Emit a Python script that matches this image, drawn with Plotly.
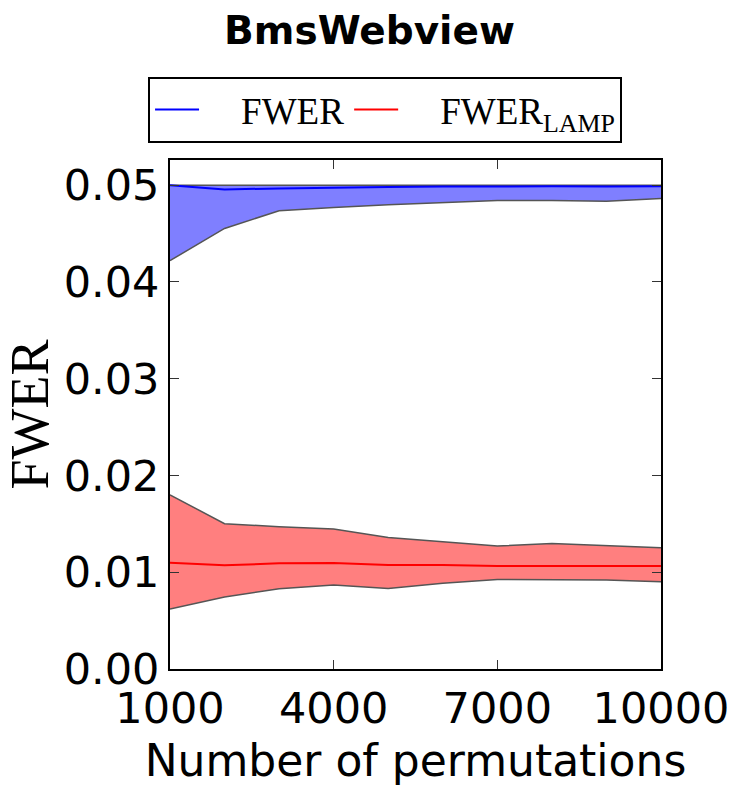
import plotly.graph_objects as go

perms = [1000, 2000, 3000, 4000, 5000, 6000, 7000, 8000, 9000, 10000]

fwer_mean = [0.0500, 0.04956, 0.04966, 0.04975, 0.0498, 0.04985, 0.04988, 0.04988, 0.04985, 0.04988]
fwer_upper = [0.0500, 0.0500, 0.0500, 0.0500, 0.0500, 0.0500, 0.0500, 0.0500, 0.0500, 0.0500]
fwer_lower = [0.0422, 0.04553, 0.04735, 0.0477, 0.04797, 0.04817, 0.04842, 0.04842, 0.04835, 0.04862]

lamp_mean = [0.01098, 0.01071, 0.01092, 0.01095, 0.01074, 0.01074, 0.01064, 0.01067, 0.01064, 0.01064]
lamp_upper = [0.0180, 0.01501, 0.01470, 0.01446, 0.01360, 0.01315, 0.01271, 0.01298, 0.01278, 0.01253]
lamp_lower = [0.0062, 0.00744, 0.0083, 0.00868, 0.00833, 0.00885, 0.00926, 0.00923, 0.00919, 0.00902]

x_ticks = [1000, 4000, 7000, 10000]
y_ticks = [0.00, 0.01, 0.02, 0.03, 0.04, 0.05]

PAD = "\u00a0" * 4
names = [PAD + "FWER", PAD + "FWER<sub>LAMP</sub>"]

edge = dict(color="#555555", width=1.5)

fig = go.Figure()

# FWER band
fig.add_trace(go.Scatter(x=perms, y=fwer_lower, mode="lines", line=edge, showlegend=False, hoverinfo="skip"))
fig.add_trace(go.Scatter(x=perms, y=fwer_upper, mode="lines", line=edge, fill="tonexty",
                         fillcolor="rgba(0,0,255,0.5)", showlegend=False, hoverinfo="skip"))
# LAMP band
fig.add_trace(go.Scatter(x=perms, y=lamp_lower, mode="lines", line=edge, showlegend=False, hoverinfo="skip"))
fig.add_trace(go.Scatter(x=perms, y=lamp_upper, mode="lines", line=edge, fill="tonexty",
                         fillcolor="rgba(255,0,0,0.5)", showlegend=False, hoverinfo="skip"))
# Means
fig.add_trace(go.Scatter(x=perms, y=fwer_mean, mode="lines", line=dict(color="#0000ff", width=2), name=names[0]))
fig.add_trace(go.Scatter(x=perms, y=lamp_mean, mode="lines", line=dict(color="#ff0000", width=2), name=names[1]))

axis_common = dict(
    showline=True, linecolor="black", linewidth=2, mirror="ticks",
    ticks="inside", ticklen=9, tickwidth=1.2, tickcolor="#333333",
    showgrid=False, zeroline=False,
    tickfont=dict(family="DejaVu Sans", size=43, color="black"),
)

fig.update_xaxes(range=[1000, 10000], tickvals=x_ticks, ticktext=[str(v) for v in x_ticks],
                 title=dict(text="Number of permutations", font=dict(family="DejaVu Sans", size=44, color="black"),
                            standoff=14),
                 **axis_common)
fig.update_yaxes(range=[0, 0.0526], tickvals=y_ticks, ticktext=[f"{v:.2f}" for v in y_ticks],
                 title=dict(text="FWER", font=dict(family="Liberation Serif", size=54, color="black"),
                            standoff=10),
                 **axis_common)

fig.update_layout(
    width=739, height=787,
    margin=dict(l=170, r=78, t=160, b=118, autoexpand=False),
    paper_bgcolor="white", plot_bgcolor="white",
    title=dict(text="<b>BmsWebview</b>", x=0.5, xanchor="center", y=0.962, yanchor="middle",
               font=dict(family="DejaVu Sans", size=39, color="black")),
    legend=dict(orientation="h",
                x=0.438, xanchor="center", y=1.0334, yanchor="bottom",
                traceorder="normal",
                bordercolor="black", borderwidth=2, bgcolor="white",
                font=dict(family="Liberation Serif", size=37, color="black"),
                itemwidth=44),
    showlegend=True,
)

fig.write_html("out.html")
